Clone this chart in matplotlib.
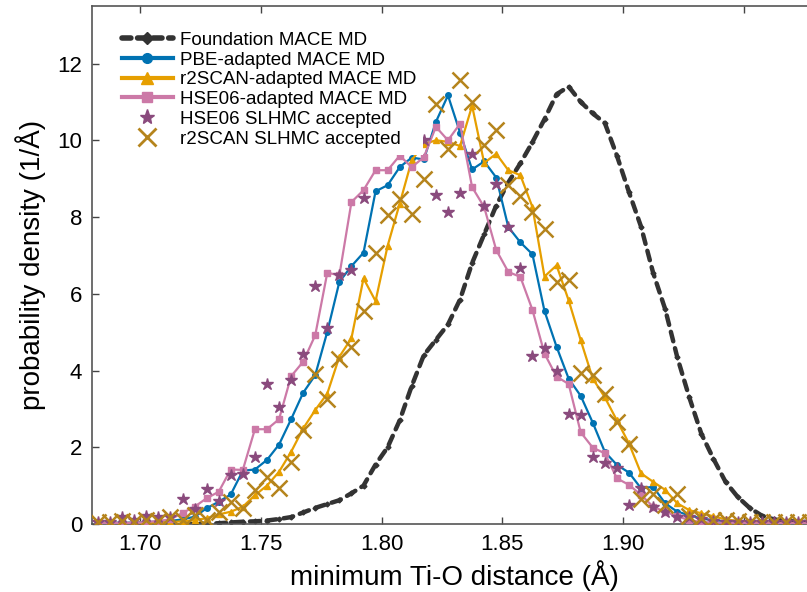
import matplotlib
matplotlib.use("Agg")
import matplotlib.pyplot as plt
import numpy as np
from matplotlib.lines import Line2D

plt.rcParams["font.family"] = ["Liberation Sans", "DejaVu Sans"]

# bin centres (0.005 A bins)
bins = np.arange(60) * 0.005 + 1.6825

foundation = [0, 0, 0, 0, 0, 0, 0, 0, 0, 0.01, 0.02, 0.04, 0.06, 0.07, 0.09, 0.13, 0.18, 0.3,
              0.42, 0.52, 0.62, 0.8, 1.0, 1.55, 2.0, 2.7, 3.6, 4.4, 4.8, 5.2, 5.85, 6.8, 7.55,
              8.3, 8.9, 9.4, 9.95, 10.55, 11.2, 11.4, 11.0, 10.7, 10.45, 9.6, 8.65, 7.75, 6.55,
              5.6, 4.35, 3.3, 2.35, 1.7, 1.1, 0.71, 0.42, 0.22, 0.12, 0.08, 0.06, 0.05]
pbe = [0.03, 0.03, 0.03, 0.04, 0.05, 0.06, 0.08, 0.12, 0.19, 0.41, 0.58, 0.77, 1.39, 1.42,
       1.67, 2.07, 2.73, 3.42, 3.88, 5.01, 6.31, 6.72, 7.07, 8.67, 8.83, 9.3, 9.55, 9.5,
       10.48, 11.17, 10.2, 9.24, 9.45, 9.03, 7.74, 7.34, 7.03, 5.55, 4.62, 3.79, 3.34, 2.64,
       1.88, 1.54, 1.34, 0.93, 0.97, 0.54, 0.32, 0.23, 0.14, 0.1, 0.07, 0.05, 0.04, 0.03,
       0.03, 0.02, 0.02, 0.02]
r2scan = [0.02, 0.02, 0.02, 0.03, 0.03, 0.04, 0.05, 0.07, 0.1, 0.15, 0.25, 0.32, 0.45, 0.75,
          1.0, 1.36, 1.88, 2.49, 2.97, 3.4, 4.36, 4.84, 6.4, 5.81, 7.25, 8.35, 9.48, 9.9,
          10.0, 9.96, 9.85, 10.9, 9.41, 9.65, 9.22, 9.09, 8.26, 6.45, 6.74, 5.83, 4.79, 3.79,
          3.3, 2.7, 2.1, 1.32, 1.1, 0.89, 0.54, 0.36, 0.28, 0.2, 0.12, 0.08, 0.06, 0.04,
          0.03, 0.03, 0.02, 0.02]
hse06 = [0.02, 0.02, 0.03, 0.03, 0.05, 0.08, 0.12, 0.29, 0.45, 0.67, 0.84, 1.42, 1.41, 2.47,
         2.47, 2.73, 3.85, 4.23, 4.92, 6.55, 6.48, 8.39, 8.7, 9.22, 9.22, 9.6, 9.3, 9.56,
         10.35, 10.0, 10.43, 8.78, 8.26, 7.14, 6.57, 6.44, 5.58, 4.44, 3.84, 3.65, 2.39, 1.99,
         1.84, 1.19, 1.02, 0.76, 0.45, 0.32, 0.2, 0.1, 0.05, 0.04, 0.03, 0.03, 0.02, 0.02,
         0.02, 0.02, 0.02, 0.02]
hse06_slhmc = [0.05, 0.05, 0.19, 0.1, 0.21, 0.19, 0.19, 0.64, 0.4, 0.91, 0.6, 1.28, 1.3, 1.74,
               3.65, 3.04, 3.75, 4.43, 6.2, 5.12, 6.48, 6.61, 8.5, 10.0, 10.3, 10.6, 10.2, 10.0,
               8.57, 8.13, 8.63, 9.65, 8.28, 8.87, 7.73, 6.66, 4.38, 4.59, 3.99, 2.86, 2.84,
               1.75, 1.58, 1.45, 0.49, 0.93, 0.45, 0.32, 0.19, 0.18, 0.12, 0.08, 0.05, 0.05,
               0.05, 0.05, 0.05, 0.05, 0.05, 0.05]
r2scan_slhmc = [0.05, 0.05, 0.08, 0.05, 0.1, 0.08, 0.19, 0.1, 0.23, 0.1, 0.32, 0.58, 0.41,
                0.89, 1.23, 0.93, 1.62, 2.45, 3.9, 3.27, 4.31, 4.62, 5.55, 7.05, 8.05, 8.48,
                8.09, 9.0, 10.95, 9.78, 11.56, 11.0, 9.87, 10.26, 8.83, 8.55, 8.13, 7.68, 6.31,
                6.37, 3.94, 3.88, 3.4, 2.66, 2.08, 0.64, 0.78, 0.49, 0.78, 0.21, 0.15, 0.1,
                0.1, 0.08, 0.05, 0.05, 0.05, 0.05, 0.05, 0.05]

labels = ["Foundation MACE MD", "PBE-adapted MACE MD", "r2SCAN-adapted MACE MD",
          "HSE06-adapted MACE MD", "HSE06 SLHMC accepted", "r2SCAN SLHMC accepted"]
c_found = "#333333"
c_pbe = "#0072B2"
c_r2 = "#E69F00"
c_hse = "#CC79A7"
c_star = "#8A4A7D"
c_x = "#B5841C"

fig = plt.figure(figsize=(8.07, 5.92), dpi=100)
ax = fig.add_axes([92 / 807, 68 / 592, 724 / 807, 518 / 592])

ax.plot(bins, foundation, color=c_found, lw=3.2, ls=(0, (2.2, 1.6)),
        dash_capstyle="round", marker="D", ms=2.5, zorder=2)
ax.plot(bins, pbe, color=c_pbe, lw=1.6, marker="o", ms=4, zorder=3)
ax.plot(bins, r2scan, color=c_r2, lw=1.6, marker="^", ms=4.5, zorder=3)
ax.plot(bins, hse06, color=c_hse, lw=1.6, marker="s", ms=4.5, zorder=3)
ax.plot(bins, hse06_slhmc, ls="none", color=c_star, marker="*", ms=9, zorder=4)
ax.plot(bins, r2scan_slhmc, ls="none", color=c_x, marker="x", ms=12, mew=1.8, zorder=4)

ax.set_xlim(1.68, 1.98)
ax.set_ylim(0, 13.5)
ax.set_xticks([1.70, 1.75, 1.80, 1.85, 1.90, 1.95])
ax.set_xticklabels(["1.70", "1.75", "1.80", "1.85", "1.90", "1.95"])
ax.set_yticks([0, 2, 4, 6, 8, 10, 12])
ax.tick_params(direction="in", top=True, right=True, labelsize=16, length=5,
               width=1, color="#444444", pad=7)
for s in ax.spines.values():
    s.set_color("#555555")
    s.set_linewidth(1.2)

ax.set_xlabel("minimum Ti-O distance (Å)", fontsize=20, labelpad=4)
ax.set_ylabel("probability density (1/Å)", fontsize=20, labelpad=8)

handles = [
    Line2D([], [], color=c_found, lw=4, ls=(0, (1.6, 1.2)), dash_capstyle="round",
           marker="D", ms=6),
    Line2D([], [], color=c_pbe, lw=3, marker="o", ms=7),
    Line2D([], [], color=c_r2, lw=3, marker="^", ms=8),
    Line2D([], [], color=c_hse, lw=3, marker="s", ms=7),
    Line2D([], [], ls="none", color=c_star, marker="*", ms=11),
    Line2D([], [], ls="none", color=c_x, marker="x", ms=13, mew=2),
]
leg = ax.legend(handles, labels, loc="upper left", bbox_to_anchor=(0.031, 0.965),
                fontsize=13.5, frameon=True, framealpha=1, facecolor="white",
                edgecolor="none", fancybox=False, handlelength=2.7,
                handletextpad=0.37, labelspacing=0.14, borderpad=0.4,
                borderaxespad=0)
leg.set_zorder(10)

fig.savefig("out.png", dpi=100)
